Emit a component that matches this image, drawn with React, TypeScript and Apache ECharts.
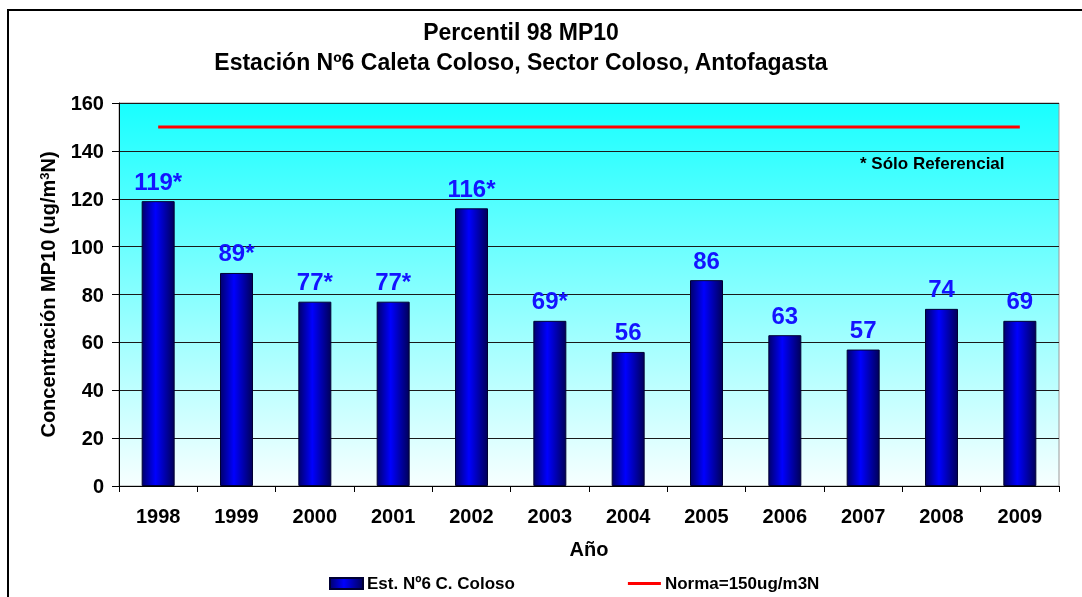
import React, { useEffect, useRef } from "react";
import * as echarts from "echarts";

const years = ["1998", "1999", "2000", "2001", "2002", "2003", "2004", "2005", "2006", "2007", "2008", "2009"];
const values = [119, 89, 77, 77, 116, 69, 56, 86, 63, 57, 74, 69];
const referencial = [true, true, true, true, true, true, false, false, false, false, false, false];
const norma = [150, 150, 150, 150, 150, 150, 150, 150, 150, 150, 150, 150];
const yTicks = { min: 0, max: 160, interval: 20 };
const titleLines = ["Percentil 98 MP10", "Estación Nº6 Caleta Coloso, Sector Coloso, Antofagasta"];
const seriesNames = ["Est. Nº6 C. Coloso", "Norma=150ug/m3N"];
const noteText = "* Sólo Referencial";

const FONT = "'Liberation Sans', Arial, sans-serif";

export default function App() {
  const ref = useRef<HTMLDivElement>(null);
  useEffect(() => {
    if (!ref.current) return;
    const chart = echarts.init(ref.current, undefined, { renderer: "svg" });
    const barGradient = new echarts.graphic.LinearGradient(0, 0, 1, 0, [
      { offset: 0, color: "#00006e" },
      { offset: 0.42, color: "#0000ff" },
      { offset: 1, color: "#00005a" },
    ]);
    chart.setOption({
      animation: false,
      textStyle: { fontFamily: FONT },
      title: {
        text: titleLines.join("\n"),
        left: 521,
        top: 17,
        padding: 0,
        textAlign: "center",
        textStyle: { fontSize: 23, fontWeight: "bold", color: "#000", lineHeight: 30, fontFamily: FONT },
      },
      graphic: [
        {
          type: "rect",
          shape: { x: 8, y: 10, width: 1090, height: 600 },
          style: { fill: "none", stroke: "#000", lineWidth: 2 },
          silent: true,
          z: -10,
        },
        {
          type: "text",
          left: 860,
          top: 155,
          style: { text: noteText, fill: "#000", font: `bold 17px ${FONT}` },
          z: 10,
        },
      ],
      legend: {
        left: 329,
        top: 575,
        padding: 0,
        itemWidth: 33,
        itemHeight: 11,
        itemGap: 113,
        textStyle: { fontSize: 17, fontWeight: "bold", color: "#000", fontFamily: FONT, padding: [0, 0, 0, -1] },
        data: [
          { name: seriesNames[0], icon: "rect" },
          { name: seriesNames[1], icon: "path://M0,0 M34,11 M0,4 L34,4 L34,7 L0,7 Z", itemStyle: { color: "#ff0000" } },
        ],
      },
      grid: {
        left: 119,
        top: 103,
        right: 23,
        bottom: 111,
        show: true,
        borderColor: "#9a9a9a",
        borderWidth: 1,
        backgroundColor: {
          type: "linear",
          x: 0,
          y: 0,
          x2: 0,
          y2: 1,
          colorStops: [
            { offset: 0, color: "#18ffff" },
            { offset: 1, color: "#f7ffff" },
          ],
        },
      },
      xAxis: {
        type: "category",
        data: years,
        boundaryGap: true,
        name: "Año",
        nameLocation: "middle",
        nameGap: 53,
        nameTextStyle: { fontSize: 20, fontWeight: "bold", color: "#000", fontFamily: FONT },
        axisLine: { lineStyle: { color: "#000", width: 1 } },
        axisTick: { show: true, length: 6, lineStyle: { color: "#000" } },
        axisLabel: { fontSize: 20, fontWeight: "bold", color: "#000", margin: 20, fontFamily: FONT },
        splitLine: { show: false },
      },
      yAxis: {
        type: "value",
        min: yTicks.min,
        max: yTicks.max,
        interval: yTicks.interval,
        name: "Concentración MP10 (ug/m{sup|3}N)",
        nameLocation: "middle",
        nameGap: 61,
        nameTextStyle: {
          fontSize: 20,
          fontWeight: "bold",
          color: "#000",
          fontFamily: FONT,
          rich: {
            sup: { fontSize: 13, fontWeight: "bold", color: "#000", verticalAlign: "top", fontFamily: FONT },
          },
        },
        axisLine: { show: true, lineStyle: { color: "#000", width: 1 } },
        axisTick: { show: true, length: 7, lineStyle: { color: "#000" } },
        axisLabel: { fontSize: 20, fontWeight: "bold", color: "#000", margin: 15, fontFamily: FONT },
        splitLine: { show: true, lineStyle: { color: "#1a1a1a", width: 1 } },
      },
      series: [
        {
          name: seriesNames[0],
          type: "bar",
          data: values,
          barWidth: 33,
          itemStyle: { color: barGradient, borderColor: "#000033", borderWidth: 1 },
          label: {
            show: true,
            position: "top",
            distance: 8,
            fontSize: 24,
            fontWeight: "bold",
            color: "#1414ff",
            fontFamily: FONT,
            formatter: (p: any) => `${values[p.dataIndex]}${referencial[p.dataIndex] ? "*" : ""}`,
          },
          z: 3,
        },
        {
          name: seriesNames[1],
          type: "line",
          data: norma,
          symbol: "none",
          lineStyle: { color: "#ff0000", width: 3 },
          itemStyle: { color: "#ff0000" },
          z: 4,
        },
      ],
    });
    return () => chart.dispose();
  }, []);
  return (
    <div
      ref={ref}
      style={{ position: "fixed", left: 0, top: 0, width: 1082, height: 597 }}
    />
  );
}
